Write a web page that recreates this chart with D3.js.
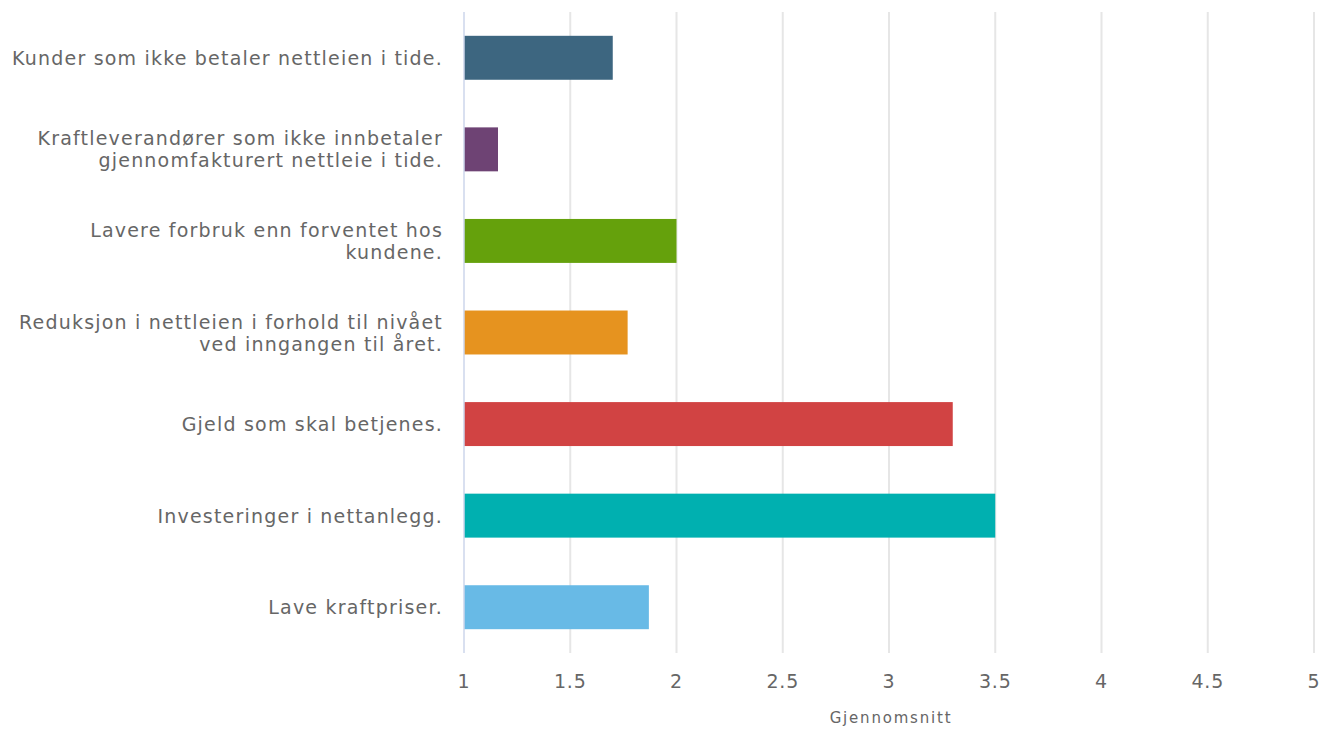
<!DOCTYPE html>
<html lang="no">
<head>
  <meta charset="UTF-8" />
  <title>Gjennomsnitt</title>
  <script src="https://d3js.org/d3.v7.min.js"></script>
  <style>
    body { margin: 0; background: #fff; }
    #chart text { font-family: "DejaVu Sans", Verdana, sans-serif; fill: #666; }
  </style>
</head>
<body>
  <div id="chart"></div>
  <script>
    // categories (one array of lines per label), values and colours
    const categories = [
      ["Kunder som ikke betaler nettleien i tide."],
      ["Kraftleverandører som ikke innbetaler", "gjennomfakturert nettleie i tide."],
      ["Lavere forbruk enn forventet hos", "kundene."],
      ["Reduksjon i nettleien i forhold til nivået", "ved inngangen til året."],
      ["Gjeld som skal betjenes."],
      ["Investeringer i nettanlegg."],
      ["Lave kraftpriser."]
    ];
    const values = [1.70, 1.16, 2.0, 1.77, 3.3, 3.5, 1.87];
    const colors = ["#3d6680", "#6e4374", "#65a10c", "#e6931f", "#d14343", "#00b0b0", "#68bae6"];
    const xTicks = [1, 1.5, 2, 2.5, 3, 3.5, 4, 4.5, 5];
    const xTitle = "Gjennomsnitt";

    const width = 1326, height = 729;
    const margin = {top: 12, right: 12, bottom: 76, left: 464};

    const svg = d3.select("#chart").append("svg").attr("width", width).attr("height", height);

    const x = d3.scaleLinear().domain([1, 5]).range([margin.left, width - margin.right]);
    const y = d3.scaleBand().domain(d3.range(categories.length))
      .range([margin.top, height - margin.bottom]).paddingInner(0.52).paddingOuter(0.26);

    // grid
    svg.append("g").selectAll("line")
      .data(xTicks.slice(1))
      .enter().append("line")
      .attr("x1", d => x(d)).attr("x2", d => x(d))
      .attr("y1", margin.top).attr("y2", height - margin.bottom)
      .attr("stroke", "#e6e6e6").attr("stroke-width", 2);

    // bars
    svg.append("g").selectAll("rect")
      .data(values)
      .enter().append("rect")
      .attr("x", x(1))
      .attr("y", (d, i) => y(i))
      .attr("width", d => x(d) - x(1))
      .attr("height", y.bandwidth())
      .attr("fill", (d, i) => colors[i]);

    // axis line at 1
    svg.append("line")
      .attr("x1", x(1)).attr("x2", x(1))
      .attr("y1", margin.top).attr("y2", height - margin.bottom)
      .attr("stroke", "#ccd6eb").attr("stroke-width", 1.5);

    // category labels
    const lh = 22;
    svg.append("g").selectAll("text")
      .data(categories)
      .enter().append("text")
      .attr("text-anchor", "end")
      .style("font-size", "19px")
      .style("letter-spacing", "1.2px")
      .each(function (lines, i) {
        const cy = y(i) + y.bandwidth() / 2;
        const t0 = cy - (lines.length - 1) * lh / 2 + 7;
        d3.select(this).selectAll("tspan").data(lines).enter().append("tspan")
          .attr("x", margin.left - 21)
          .attr("y", (d, j) => t0 + j * lh)
          .text(d => d);
      });

    // tick labels
    svg.append("g").selectAll("text")
      .data(xTicks)
      .enter().append("text")
      .attr("x", d => x(d)).attr("y", 688)
      .attr("text-anchor", "middle")
      .style("font-size", "19px")
      .style("letter-spacing", "0.8px")
      .text(d => d);

    svg.append("text")
      .attr("x", (x(1) + x(5)) / 2 + 2).attr("y", 723)
      .attr("text-anchor", "middle")
      .style("font-size", "15px")
      .style("letter-spacing", "1.8px")
      .text(xTitle);
  </script>
</body>
</html>
